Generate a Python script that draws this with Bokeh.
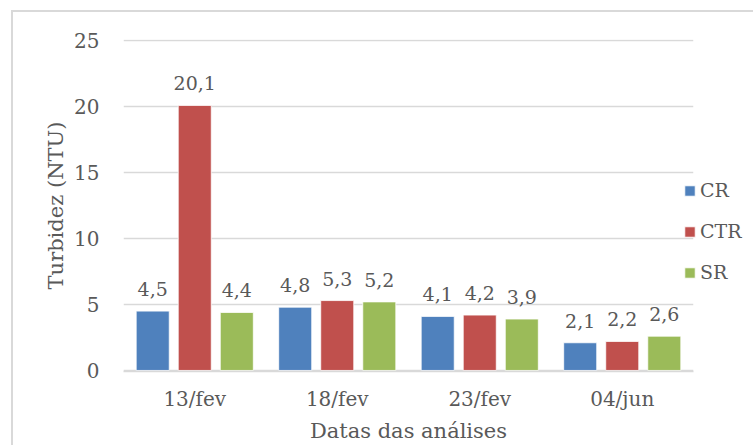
from bokeh.plotting import figure
from bokeh.models import ColumnDataSource, FactorRange, Legend, LegendItem, LabelSet
from bokeh.core.properties import value
from bokeh.transform import dodge
from bokeh.embed import file_html
from bokeh.resources import INLINE

# Turbidity per sampling date
dates = ["13/fev", "18/fev", "23/fev", "04/jun"]
series = ["CR", "CTR", "SR"]
cr = [4.5, 4.8, 4.1, 2.1]
ctr = [20.1, 5.3, 4.2, 2.2]
sr = [4.4, 5.2, 3.9, 2.6]
colors = ["#4F81BD", "#C0504D", "#9BBB59"]
y_ticks = [0, 5, 10, 15, 20, 25]

FONT = "DejaVu Serif"
TEXT = "#595959"
GRID = "#D9D9D9"


def fmt(v):
    return f"{v:.1f}".replace(".", ",")


source = ColumnDataSource(dict(
    date=dates,
    CR=cr, CTR=ctr, SR=sr,
    CR_lbl=[fmt(v) for v in cr],
    CTR_lbl=[fmt(v) for v in ctr],
    SR_lbl=[fmt(v) for v in sr],
))

p = figure(
    x_range=FactorRange(*dates, range_padding=0),
    y_range=(-0.08, 25.1),
    frame_width=570, frame_height=332,
    min_border_left=110, min_border_right=55,
    min_border_top=27, min_border_bottom=70,
    output_backend="svg", toolbar_location=None,
    margin=(10, 0, 0, 11),
)
p.styles = {"border-top": "2px solid #D9D9D9", "border-left": "2px solid #D9D9D9"}

offsets = [-0.295, 0.0, 0.295]
bar_w = 0.232
renderers = []
for name, col, off in zip(series, colors, offsets):
    r = p.vbar(x=dodge("date", off, range=p.x_range), top=name, width=bar_w,
               source=source, fill_color=col, line_color="white", line_width=0.8)
    renderers.append(r)
    labels = LabelSet(x=dodge("date", off, range=p.x_range), y=name, text=f"{name}_lbl",
                      source=source, text_align="center", text_baseline="alphabetic",
                      y_offset=15, text_font=value(FONT), text_font_size=value("19px"),
                      text_color=TEXT)
    p.add_layout(labels)

legend = Legend(
    items=[LegendItem(label=n, renderers=[r]) for n, r in zip(series, renderers)],
    location=(-10, 88),
    border_line_color=None, background_fill_alpha=0,
    label_text_font=FONT, label_text_font_size="19px", label_text_color=TEXT,
    glyph_width=13, glyph_height=13, label_standoff=4, spacing=19,
    padding=0, margin=0,
)
p.add_layout(legend, "right")

p.outline_line_color = None
p.background_fill_color = "white"
p.border_fill_color = "white"

p.xgrid.grid_line_color = None
p.ygrid.ticker = y_ticks
p.ygrid.grid_line_color = GRID
p.ygrid.grid_line_width = 1.5

p.yaxis.ticker = y_ticks
p.yaxis.axis_line_color = None
p.yaxis.major_tick_line_color = None
p.yaxis.minor_tick_line_color = None
p.yaxis.major_label_standoff = 18
p.yaxis.axis_label = "Turbidez (NTU)"
p.yaxis.axis_label_standoff = 3

p.xaxis.axis_line_color = GRID
p.xaxis.axis_line_width = 1.5
p.xaxis.major_tick_line_color = None
p.xaxis.minor_tick_line_color = None
p.xaxis.major_label_standoff = 9
p.xaxis.axis_label = "Datas das análises"
p.xaxis.axis_label_standoff = 5

for ax in (p.xaxis, p.yaxis):
    ax.major_label_text_font = FONT
    ax.major_label_text_font_size = "20px"
    ax.major_label_text_color = TEXT
    ax.axis_label_text_font = FONT
    ax.axis_label_text_font_size = "21px"
    ax.axis_label_text_font_style = "normal"
    ax.axis_label_text_color = TEXT

open("out.html", "w").write(file_html(p, INLINE))
